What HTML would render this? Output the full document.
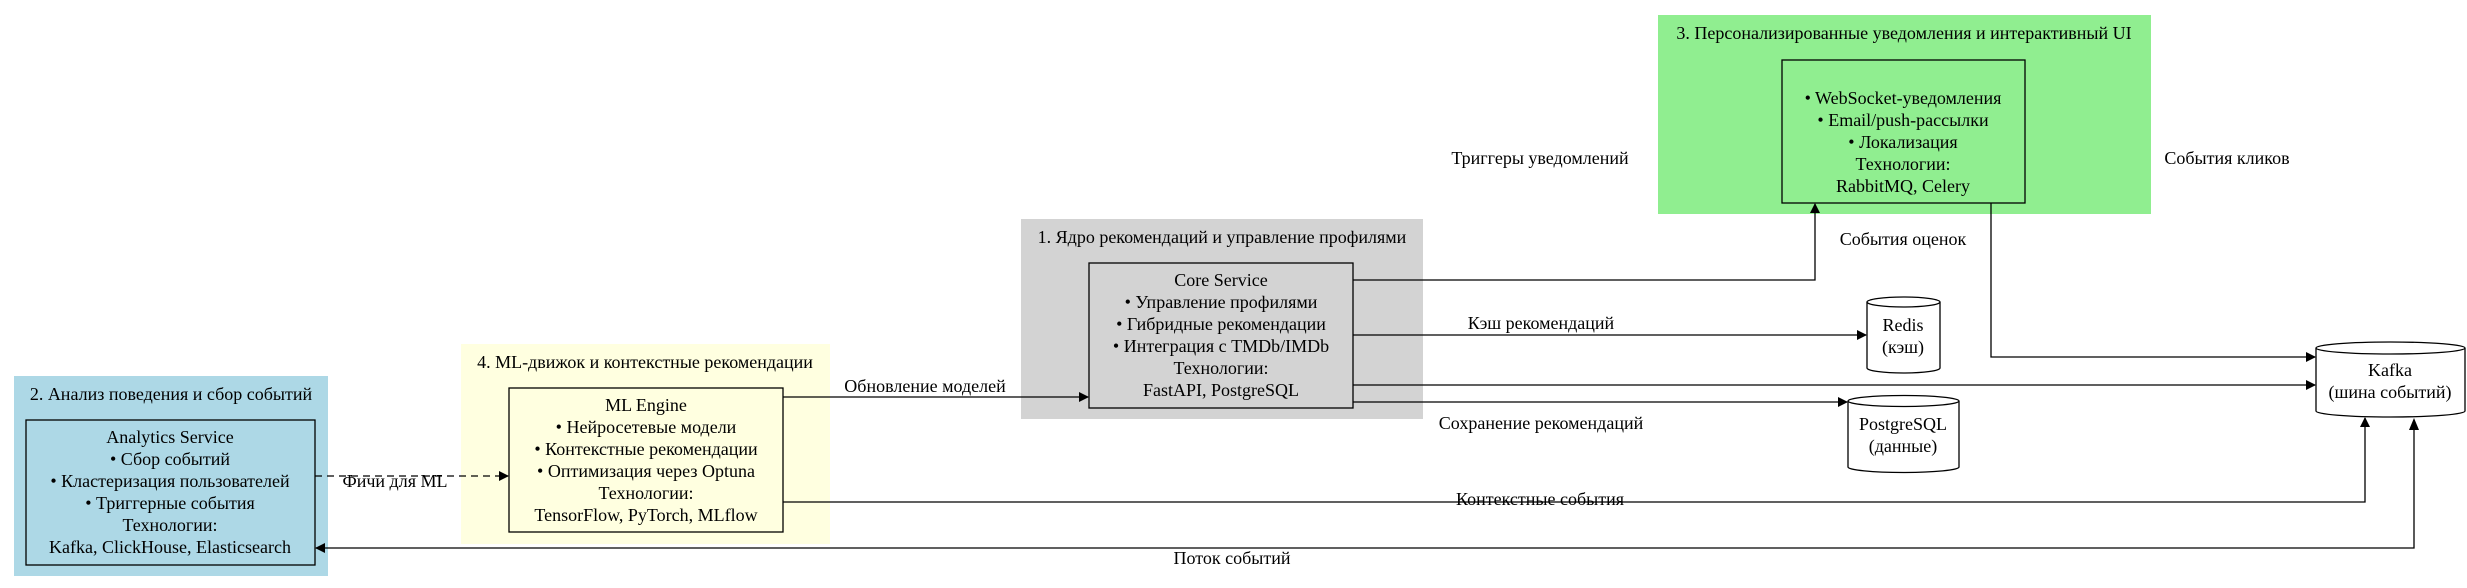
<!DOCTYPE html>
<html><head><meta charset="utf-8"><style>
html,body{margin:0;padding:0;background:#fff;}
svg{display:block;}
text{font-family:"Liberation Serif",serif;font-size:18px;fill:#000;}
</style></head><body>
<svg width="2467" height="588" viewBox="0 0 2467 588" xmlns="http://www.w3.org/2000/svg">
<defs><marker id="a" markerWidth="10" markerHeight="10" refX="9" refY="5" orient="auto" markerUnits="userSpaceOnUse"><path d="M0,0 L10,5 L0,10 z" fill="#000"/></marker></defs>
<rect x="14" y="376" width="314" height="200" fill="#add8e6"/>
<text x="171" y="400" text-anchor="middle">2. Анализ поведения и сбор событий</text>
<rect x="461" y="344" width="369" height="200" fill="#ffffe0"/>
<text x="645" y="368" text-anchor="middle">4. ML-движок и контекстные рекомендации</text>
<rect x="1021" y="219" width="402" height="200" fill="#d3d3d3"/>
<text x="1222" y="243" text-anchor="middle">1. Ядро рекомендаций и управление профилями</text>
<rect x="1658" y="15" width="493" height="199" fill="#90ee90"/>
<text x="1904" y="39" text-anchor="middle">3. Персонализированные уведомления и интерактивный UI</text>
<rect x="26" y="420" width="289" height="145" fill="none" stroke="#000" stroke-width="1.3"/>
<g text-anchor="middle"><text x="170" y="443">Analytics Service</text><text x="170" y="465">• Сбор событий</text><text x="170" y="487">• Кластеризация пользователей</text><text x="170" y="509">• Триггерные события</text><text x="170" y="531">Технологии:</text><text x="170" y="553">Kafka, ClickHouse, Elasticsearch</text></g>
<rect x="509" y="388" width="274" height="144" fill="none" stroke="#000" stroke-width="1.3"/>
<g text-anchor="middle"><text x="646" y="411">ML Engine</text><text x="646" y="433">• Нейросетевые модели</text><text x="646" y="455">• Контекстные рекомендации</text><text x="646" y="477">• Оптимизация через Optuna</text><text x="646" y="499">Технологии:</text><text x="646" y="521">TensorFlow, PyTorch, MLflow</text></g>
<rect x="1089" y="263" width="264" height="145" fill="none" stroke="#000" stroke-width="1.3"/>
<g text-anchor="middle"><text x="1221" y="286">Core Service</text><text x="1221" y="308">• Управление профилями</text><text x="1221" y="330">• Гибридные рекомендации</text><text x="1221" y="352">• Интеграция с TMDb/IMDb</text><text x="1221" y="374">Технологии:</text><text x="1221" y="396">FastAPI, PostgreSQL</text></g>
<rect x="1782" y="60" width="243" height="143" fill="none" stroke="#000" stroke-width="1.3"/>
<g text-anchor="middle"><text x="1903" y="104">• WebSocket-уведомления</text><text x="1903" y="126">• Email/push-рассылки</text><text x="1903" y="148">• Локализация</text><text x="1903" y="170">Технологии:</text><text x="1903" y="192">RabbitMQ, Celery</text></g>
<path d="M1867,302 v66 a36.5,5 0 0 0 73,0 v-66" fill="none" stroke="#000" stroke-width="1.3"/>
<ellipse cx="1903.5" cy="302" rx="36.5" ry="5" fill="none" stroke="#000" stroke-width="1.3"/>
<g text-anchor="middle"><text x="1903" y="331">Redis</text><text x="1903" y="353">(кэш)</text></g>
<path d="M1848,401 v66 a55.5,5.5 0 0 0 111,0 v-66" fill="none" stroke="#000" stroke-width="1.3"/>
<ellipse cx="1903.5" cy="401" rx="55.5" ry="5.5" fill="none" stroke="#000" stroke-width="1.3"/>
<g text-anchor="middle"><text x="1903" y="430">PostgreSQL</text><text x="1903" y="452">(данные)</text></g>
<path d="M2316,348 v63 a74.5,6 0 0 0 149,0 v-63" fill="none" stroke="#000" stroke-width="1.3"/>
<ellipse cx="2390.5" cy="348" rx="74.5" ry="6" fill="none" stroke="#000" stroke-width="1.3"/>
<g text-anchor="middle"><text x="2390" y="376">Kafka</text><text x="2390" y="398">(шина событий)</text></g>
<g fill="none" stroke="#000" stroke-width="1.3">
<path d="M1353,280 H1815 V204" marker-end="url(#a)"/>
<path d="M1353,335 H1866" marker-end="url(#a)"/>
<path d="M1353,385 H2315" marker-end="url(#a)"/>
<path d="M1353,402 H1847" marker-end="url(#a)"/>
<path d="M1991,203 V357 H2315" marker-end="url(#a)"/>
<path d="M783,397 H1088" marker-end="url(#a)"/>
<path d="M783,502 H2365 V418" marker-end="url(#a)"/>
<path d="M2414,430 V548 H316" marker-end="url(#a)"/>
<path d="M315,476 H508" stroke-dasharray="7,5" marker-end="url(#a)"/>
</g>
<path d="M2414,418 l-5,12 h10 z" fill="#000"/>
<g text-anchor="middle">
<text x="1541" y="329">Кэш рекомендаций</text>
<text x="1541" y="429">Сохранение рекомендаций</text>
<text x="1540" y="164">Триггеры уведомлений</text>
<text x="2227" y="164">События кликов</text>
<text x="1903" y="245">События оценок</text>
<text x="925" y="392">Обновление моделей</text>
<text x="1540" y="505">Контекстные события</text>
<text x="1232" y="564">Поток событий</text>
<text x="395" y="487">Фичи для ML</text>
</g>
</svg>
</body></html>
